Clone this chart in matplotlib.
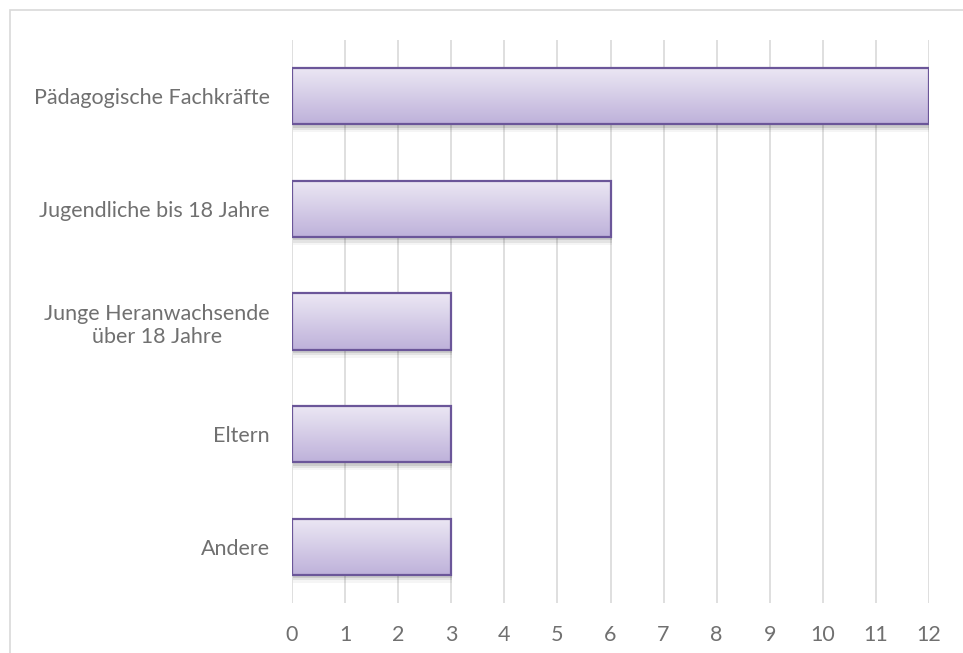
import matplotlib.pyplot as plt
import numpy as np
from matplotlib.patches import Rectangle
from matplotlib.colors import LinearSegmentedColormap

plt.rcParams['font.family'] = ['Lato', 'DejaVu Sans']

categories = ['Pädagogische Fachkräfte', 'Jugendliche bis 18 Jahre',
              'Junge Heranwachsende\nüber 18 Jahre', 'Eltern', 'Andere']
values = [12, 6, 3, 3, 3]

fig = plt.figure(figsize=(9.63, 6.53), dpi=100)
ax = fig.add_axes([292/963, 50/653, 637/963, 563/653])

# outer chart frame (runs off the right and bottom edge)
fig.patches.append(Rectangle((10/963, -0.1), 1.2, 643/653 + 0.1,
                             transform=fig.transFigure, fill=False,
                             ec='#D9D9D9', lw=1.2))

cmap = LinearSegmentedColormap.from_list('bar', ['#BEB1DA', '#ECE8F4'])
grad = np.linspace(0, 1, 256).reshape(-1, 1)

ypos = np.arange(len(categories))[::-1]
h = 0.5
for y, v in zip(ypos, values):
    # soft shadow below bar
    for k, a in enumerate([0.10, 0.07, 0.04]):
        ax.add_patch(Rectangle((0.02, y - h/2 - 0.03 - 0.02*k), v, h, fc='black',
                               alpha=a, ec='none', zorder=2))
    bar = ax.barh(y, v, height=h, color='none', edgecolor='#6B5699',
                  linewidth=1.6, zorder=4)[0]
    im = ax.imshow(grad, cmap=cmap, aspect='auto', origin='lower',
                   extent=[0, v, y - h/2, y + h/2], zorder=3)
    im.set_clip_path(bar)

ax.set_xlim(0, 12)
ax.set_ylim(-0.5, len(categories) - 0.5)
ax.set_xticks(range(0, 13))
ax.set_yticks(ypos)
ax.set_yticklabels(categories, ha='right', multialignment='center',
                   linespacing=1.2)
ax.tick_params(length=0, labelsize=15.5, colors='#707070')
ax.tick_params(axis='y', pad=16)
ax.tick_params(axis='x', pad=16)
ax.grid(axis='x', color='#D9D9D9', lw=1.2, zorder=0)
ax.set_axisbelow(True)
for s in ax.spines.values():
    s.set_visible(False)

fig.savefig('out.png', dpi=100)
